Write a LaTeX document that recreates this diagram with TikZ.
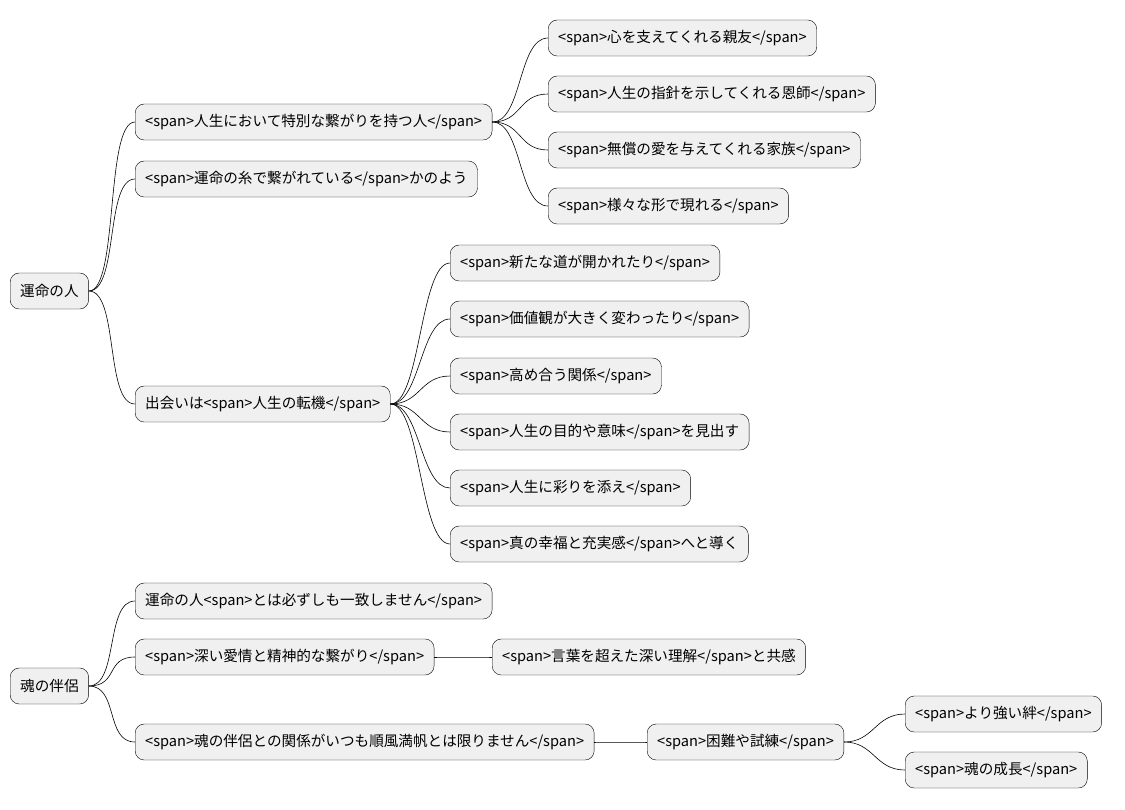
\documentclass[tikz,border=0pt]{standalone}
\usepackage{fontspec}
\newfontfamily\cjk{Noto Sans CJK JP}
\begin{document}
\begin{tikzpicture}[x=1pt,y=-1pt,
	topic/.style={draw, rounded corners=9pt, fill=gray!12, anchor=west,
		minimum height=36pt, inner xsep=10pt, font=\cjk\fontsize{14.6}{16}\selectfont},
	link/.style={draw, line width=0.6pt}]
	\useasboundingbox (0,0) rectangle (1125,809);
	\path
		(10,291) node[topic] (r1) {運命の人}
		(135,122) node[topic] (a) {<span>人生において特別な繋がりを持つ人</span>}
		(135,179) node[topic] (b) {<span>運命の糸で繋がれている</span>かのよう}
		(135,404) node[topic] (c) {出会いは<span>人生の転機</span>}
		(548,38) node[topic] (a1) {<span>心を支えてくれる親友</span>}
		(548,94) node[topic] (a2) {<span>人生の指針を示してくれる恩師</span>}
		(548,150) node[topic] (a3) {<span>無償の愛を与えてくれる家族</span>}
		(548,206) node[topic] (a4) {<span>様々な形で現れる</span>}
		(450,263) node[topic] (c1) {<span>新たな道が開かれたり</span>}
		(450,319) node[topic] (c2) {<span>価値観が大きく変わったり</span>}
		(450,376) node[topic] (c3) {<span>高め合う関係</span>}
		(450,432) node[topic] (c4) {<span>人生の目的や意味</span>を見出す}
		(450,488) node[topic] (c5) {<span>人生に彩りを添え</span>}
		(450,544) node[topic] (c6) {<span>真の幸福と充実感</span>へと導く}
		(10,686) node[topic] (r2) {魂の伴侶}
		(135,601) node[topic] (d) {運命の人<span>とは必ずしも一致しません</span>}
		(135,657) node[topic] (e) {<span>深い愛情と精神的な繋がり</span>}
		(135,742) node[topic] (f) {<span>魂の伴侶との関係がいつも順風満帆とは限りません</span>}
		(492,657) node[topic] (e1) {<span>言葉を超えた深い理解</span>と共感}
		(647,742) node[topic] (f1) {<span>困難や試練</span>}
		(905,714) node[topic] (g1) {<span>より強い絆</span>}
		(905,770) node[topic] (g2) {<span>魂の成長</span>}
	;
	\foreach \p/\c in {r1/a, r1/b, r1/c, a/a1, a/a2, a/a3, a/a4,
		c/c1, c/c2, c/c3, c/c4, c/c5, c/c6, r2/d, r2/e, r2/f, e/e1, f/f1, f1/g1, f1/g2}
		\path[link] (\p.east) .. controls +(30,0) and +(-30,0) .. (\c.west);
\end{tikzpicture}
\end{document}
